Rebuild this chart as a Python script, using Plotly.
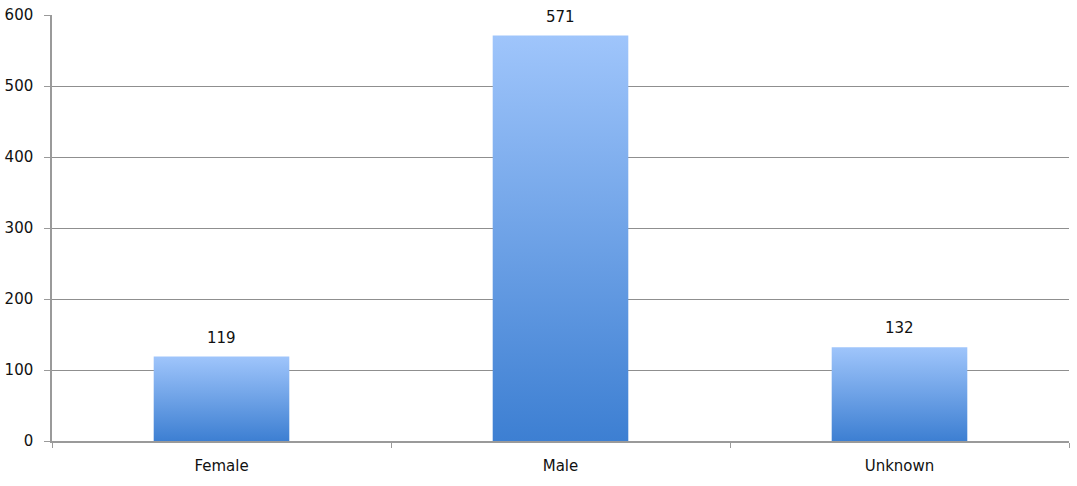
import plotly.graph_objects as go

categories = ["Female", "Male", "Unknown"]
counts = [119, 571, 132]
y_ticks = [0, 100, 200, 300, 400, 500, 600]

BAR_WIDTH = 0.4
TOP_COLOR = "#9fc5fb"
BOTTOM_COLOR = "#3d7fd2"
GRID = "#8f8f8f"
AXIS = "#9a9a9a"
FONT = "DejaVu Sans, Verdana, sans-serif"

fig = go.Figure()

# base bar trace on categorical axis (provides axis/ticks)
fig.add_trace(go.Bar(x=categories, y=counts, width=BAR_WIDTH,
                     marker=dict(color="rgba(0,0,0,0)", line=dict(width=0)),
                     hoverinfo="skip", showlegend=False))

# gradient-filled rectangles on an overlaid numeric axis, derived from the data
for i, (cat, v) in enumerate(zip(categories, counts)):
    x0, x1 = i - BAR_WIDTH / 2, i + BAR_WIDTH / 2
    fig.add_trace(go.Scatter(
        x=[x0, x1, x1, x0, x0], y=[0, 0, v, v, 0],
        xaxis="x2", mode="lines", line=dict(width=0),
        fill="toself",
        fillgradient=dict(type="vertical",
                          colorscale=[[0, BOTTOM_COLOR], [1, TOP_COLOR]]),
        hoverinfo="skip", showlegend=False, name=cat))

for cat, v in zip(categories, counts):
    fig.add_annotation(x=cat, y=v, text=str(v), showarrow=False,
                       yanchor="bottom", yshift=8,
                       font=dict(family=FONT, size=15, color="#111111"))

fig.update_layout(
    width=1077, height=486,
    margin=dict(l=52, r=8, t=15, b=45, autoexpand=False),
    paper_bgcolor="white", plot_bgcolor="white",
    font=dict(family=FONT, size=15, color="#111111"),
    bargap=0.6,
    xaxis=dict(type="category", range=[-0.5, 2.5], showline=True,
               linecolor=AXIS, linewidth=1.5, ticks="outside",
               tickson="boundaries", ticklen=5, tickcolor=AXIS,
               showgrid=False, tickfont=dict(size=15), automargin=False,
               ticklabelstandoff=10),
    xaxis2=dict(overlaying="x", range=[-0.5, 2.5], visible=False,
                showgrid=False, zeroline=False),
    yaxis=dict(range=[0, 600], tickvals=y_ticks, showline=True,
               linecolor=AXIS, linewidth=1.5, ticks="outside", ticklen=6,
               tickcolor=AXIS, showgrid=True, gridcolor=GRID, gridwidth=1,
               zeroline=False, tickfont=dict(size=15), automargin=False,
               ticklabelstandoff=8),
)

fig.write_html("out.html", post_script="document.body.style.margin='0';",
               config={"displayModeBar": False})
